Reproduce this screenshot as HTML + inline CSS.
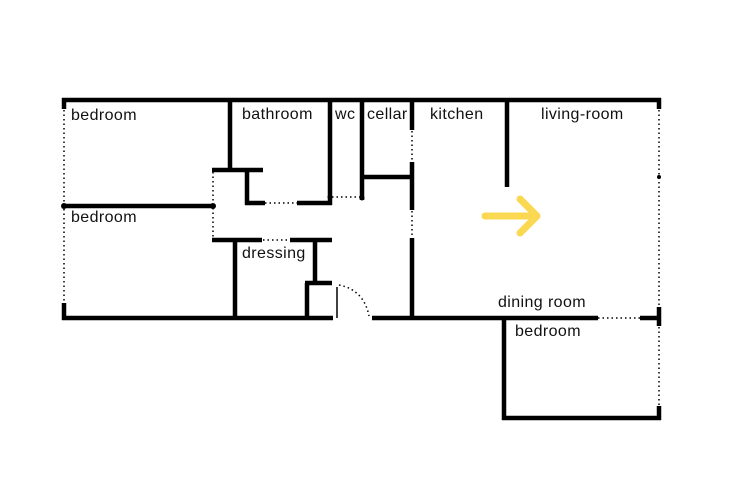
<!DOCTYPE html>
<html><head><meta charset="utf-8"><style>
html,body{margin:0;padding:0;background:#fff;}
svg{display:block;}
text{font-family:"Liberation Sans",sans-serif;font-size:16px;fill:#111;letter-spacing:0.4px;}
</style></head><body>
<svg width="750" height="500" viewBox="0 0 750 500" xmlns="http://www.w3.org/2000/svg">
<g stroke="#000" stroke-width="4.5" fill="none" stroke-linecap="butt">
<!-- top wall -->
<line x1="62" y1="100" x2="661" y2="100"/>
<!-- left stubs -->
<line x1="64" y1="98" x2="64" y2="109"/>
<line x1="64" y1="303" x2="64" y2="320"/>
<!-- bottom wall -->
<line x1="62" y1="318" x2="333" y2="318"/>
<line x1="372" y1="318" x2="598" y2="318"/>
<line x1="640" y1="318" x2="661" y2="318"/>
<!-- bedroom divider -->
<line x1="64" y1="206" x2="214" y2="206"/>
<!-- bathroom -->
<line x1="230" y1="100" x2="230" y2="170"/>
<line x1="212" y1="170" x2="263" y2="170"/>
<line x1="247" y1="170" x2="247" y2="205"/>
<line x1="245" y1="203" x2="265" y2="203"/>
<line x1="297" y1="203" x2="332" y2="203"/>
<line x1="330" y1="100" x2="330" y2="205"/>
<!-- wc/cellar -->
<line x1="362" y1="100" x2="362" y2="200"/>
<line x1="362" y1="177" x2="412" y2="177"/>
<!-- kitchen wall -->
<line x1="412" y1="100" x2="412" y2="130"/>
<line x1="412" y1="162" x2="412" y2="210"/>
<line x1="412" y1="238" x2="412" y2="318"/>
<!-- dressing -->
<line x1="212" y1="240" x2="262" y2="240"/>
<line x1="290" y1="240" x2="332" y2="240"/>
<line x1="235" y1="240" x2="235" y2="318"/>
<line x1="315" y1="240" x2="315" y2="284"/>
<line x1="305" y1="283" x2="332" y2="283"/>
<line x1="307" y1="283" x2="307" y2="318"/>
<!-- living wall -->
<line x1="507" y1="100" x2="507" y2="187"/>
<!-- right stubs -->
<line x1="659" y1="98" x2="659" y2="109"/>
<line x1="659" y1="307" x2="659" y2="326"/>
<line x1="659" y1="406" x2="659" y2="420"/>
<!-- bedroom bottom -->
<line x1="504" y1="318" x2="504" y2="420"/>
<line x1="502" y1="418" x2="661" y2="418"/>
</g>
<!-- junction dots -->
<g fill="#000">
<circle cx="64" cy="206" r="3"/><circle cx="213" cy="206" r="3"/>
<circle cx="330" cy="197" r="2.5"/><circle cx="362" cy="198" r="2.5"/>
<circle cx="659" cy="177" r="2"/>
</g>
<!-- dotted lines -->
<g stroke="#000" fill="none" stroke-width="1.5" stroke-dasharray="1.5 3">
<line x1="64" y1="110" x2="64" y2="302"/>
<line x1="213" y1="172" x2="213" y2="238"/>
<line x1="265" y1="203" x2="297" y2="203"/>
<line x1="332" y1="197" x2="360" y2="197"/>
<line x1="412" y1="131" x2="412" y2="161"/>
<line x1="412" y1="211" x2="412" y2="237"/>
<line x1="263" y1="240" x2="290" y2="240"/>
<line x1="659" y1="110" x2="659" y2="306"/>
<line x1="659" y1="327" x2="659" y2="405"/>
<line x1="598" y1="318" x2="640" y2="318"/>
<path d="M339 285 Q364 290 369 316"/>
</g>
<line x1="337" y1="287" x2="337" y2="318" stroke="#000" stroke-width="1.5"/>
<!-- arrow -->
<g stroke="#fbd852" stroke-width="7" stroke-linecap="round" stroke-linejoin="round" fill="none">
<line x1="485" y1="216" x2="536" y2="216"/>
<polyline points="520,199 537,216 520,233"/>
</g>
<!-- labels -->
<text x="71" y="120">bedroom</text>
<text x="71" y="222">bedroom</text>
<text x="242" y="119">bathroom</text>
<text x="335" y="119">wc</text>
<text x="367" y="119">cellar</text>
<text x="430" y="119">kitchen</text>
<text x="541" y="119">living-room</text>
<text x="242" y="258">dressing</text>
<text x="498" y="307">dining room</text>
<text x="515" y="336">bedroom</text>
</svg>
</body></html>
